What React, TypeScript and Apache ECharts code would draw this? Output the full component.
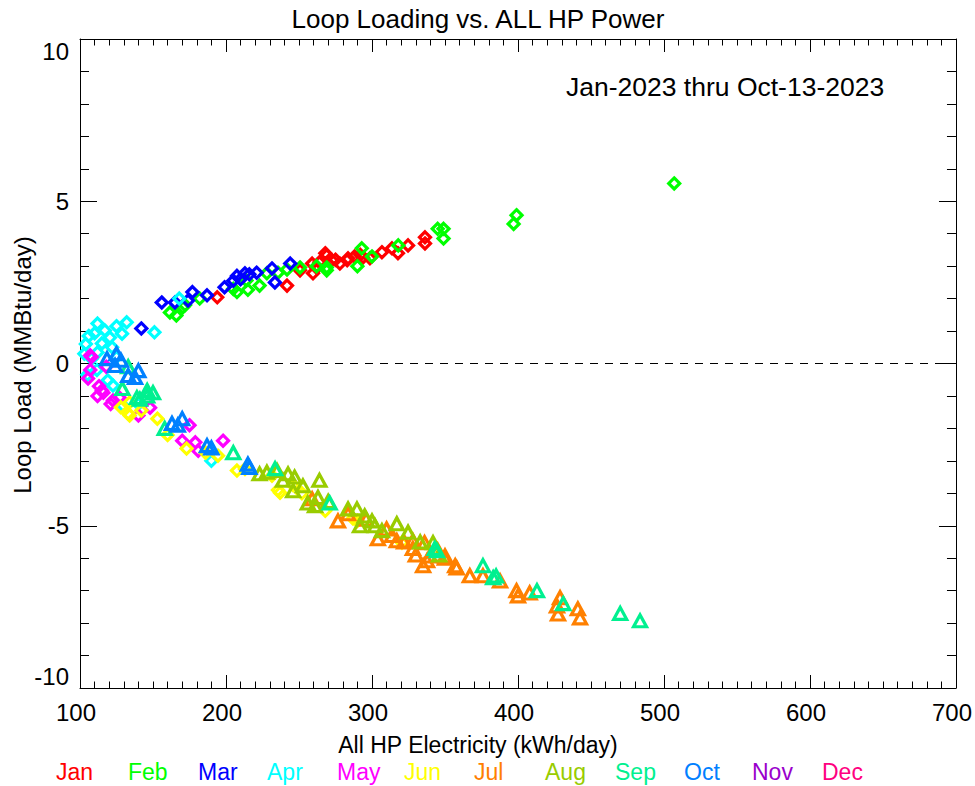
import React, { useEffect, useRef } from "react";
import * as echarts from "echarts";

const months = ["Jan", "Feb", "Mar", "Apr", "May", "Jun", "Jul", "Aug", "Sep", "Oct", "Nov", "Dec"];
const monthColors = ["#ff0000", "#00ff00", "#0000ff", "#00ffff", "#ff00ff", "#ffff00", "#ff8000", "#99cc00", "#00f090", "#0080ff", "#9900cc", "#ff0080"];
const monthSymbols = ["diamond", "diamond", "diamond", "diamond", "diamond", "diamond", "triangle", "triangle", "triangle", "triangle", "triangle", "triangle"];

const janData = [[194, 2.04], [241.8, 2.4], [250.7, 2.87], [259, 3.08], [259.6, 2.78], [264, 3.12], [268, 3.4], [272.6, 3.18], [278, 3.08], [283, 3.18], [269, 3.33], [283.6, 3.24], [293.8, 3.27], [298.6, 3.24], [306.8, 3.43], [313.7, 3.55], [317.8, 3.4], [324.7, 3.64], [336.3, 3.89], [336.3, 3.7], [288, 3.3], [292, 3.35], [275, 3.2], [262, 2.95]];
const febData = [[161.6, 1.57], [166, 1.48], [170.5, 1.73], [182, 2.0], [205, 2.3], [207.5, 2.2], [214, 2.56], [215, 2.27], [223, 2.4], [228, 2.78], [235.6, 2.8], [241.8, 2.9], [250.7, 2.96], [269, 2.96], [293, 3.55], [290, 3.0], [318, 3.64], [269, 2.87], [345, 4.15], [349, 4.15], [349, 3.85], [399, 4.57], [397, 4.3], [507, 5.55], [172, 1.8], [300, 3.3], [262, 3.0]];
const marData = [[156, 1.88], [165, 1.88], [177, 2.2], [187, 2.1], [199, 2.35], [207.5, 2.7], [213, 2.78], [221, 2.8], [231.5, 2.93], [233.5, 2.5], [244, 3.08], [174, 1.94], [142, 1.08], [210, 2.6], [216, 2.75], [205, 2.55]];
const aprData = [[112, 1.23], [117, 1.02], [132, 1.27], [128.8, 0.92], [151, 0.96], [110, 0.93], [120.5, 0.8], [112, 0.34], [115, 0.62], [122, 0.5], [111.6, -0.2], [119, -0.52], [122.6, -0.68], [129.5, -1.3], [190, -3.0], [104, 0.6], [106, 0.85], [103, 0.3], [108, 0.15], [125, 0.2], [168, 2.0], [125, 1.15], [105, -0.35], [140, -1.25]];
const mayData = [[115, -0.83], [122.6, -1.14], [127, -1.05], [148, -1.36], [140, -1.6], [175, -1.9], [170, -2.38], [179, -2.43], [181, -2.69], [198, -2.38], [107, 0.25], [105.5, -0.46], [107, -0.2], [113, -0.7], [116, -0.9], [112, -1.0], [118, -0.1], [121, -1.25], [108, 0.2]];
const junData = [[134, -1.2], [153, -1.7], [134, -1.6], [173, -2.62], [194.5, -2.84], [207.5, -3.3], [231.5, -3.46], [235.6, -3.9], [237, -3.98], [252, -4.0], [268, -4.54], [287, -4.78], [320.5, -5.52], [133, -1.54], [160, -2.2], [186, -2.75], [213, -3.25], [290, -4.85], [246, -3.75], [142, -1.45], [128, -1.35]];
const julData = [[259, -4.17], [276.7, -4.85], [283.6, -4.63], [304, -5.4], [313.7, -5.3], [317, -5.46], [328, -5.46], [336, -5.52], [328, -5.7], [337.7, -6.08], [350, -6.0], [357, -6.23], [335, -6.23], [339.7, -5.93], [350, -5.93], [367, -6.54], [376, -6.54], [387.7, -6.7], [399, -7.0], [400, -7.16], [408, -7.07], [428.8, -7.22], [426.7, -7.47], [427.4, -7.72], [441, -7.56], [442.5, -7.84], [296, -4.8], [310, -5.1], [322, -5.5], [345, -5.75], [358, -6.3], [330, -5.9]];
const augData = [[223, -3.4], [242.5, -3.4], [239, -3.6], [246, -3.92], [252.7, -3.77], [264, -3.6], [263, -4.13], [261, -4.38], [283.6, -4.48], [289.7, -4.48], [291.8, -5.0], [300, -4.85], [302, -5.0], [306.8, -5.15], [317, -4.94], [324.7, -5.2], [341.8, -5.52], [235, -3.3], [256, -4.3], [270, -4.25], [295, -4.7], [333, -5.5], [346, -5.9], [247, -3.5], [228, -3.35]];
const sepData = [[133, -0.1], [146, -0.83], [139, -1.05], [129, -0.77], [146, -1.0], [141, -1.1], [158, -2.0], [205, -2.75], [376, -6.23], [383, -6.6], [413, -7.0], [470, -7.7], [483.6, -7.93], [271, -4.3], [233.6, -3.24], [343, -5.7], [344.5, -5.77], [431, -7.4], [150, -0.9], [385, -6.55]];
const octData = [[125, 0.3], [118.5, 0.15], [124, -0.06], [133, -0.37], [140, -0.22], [137.7, -0.43], [163, -1.85], [170, -1.7], [167, -1.9], [187, -2.53], [190, -2.6], [216, -3.2], [215, -3.1], [128, 0.1]];
const novData: number[][] = [];
const decData: number[][] = [];

const monthData = [janData, febData, marData, aprData, mayData, junData, julData, augData, sepData, octData, novData, decData];

const xTicks = { min: 100, max: 700, interval: 100, minorSplit: 10 };
const yTicks = { min: -10, max: 10, interval: 5, minorSplit: 5 };

const titleText = "Loop Loading vs. ALL HP Power";
const xName = "All HP Electricity (kWh/day)";
const yName = "Loop Load (MMBtu/day)";
const rangeNote = "Jan-2023 thru Oct-13-2023";

const FONT = "'Liberation Sans', Arial, Helvetica, sans-serif";
const legendX = [56, 128, 198, 267, 337, 404, 474, 545, 615, 684, 752, 822];

export default function App() {
  const ref = useRef<HTMLDivElement>(null);
  useEffect(() => {
    if (!ref.current) return;
    const chart = echarts.init(ref.current, null, { renderer: "svg" });
    const axisLine = { show: true, onZero: false, lineStyle: { color: "#000", width: 1 } };
    const mkX = (position: string, labels: boolean) => ({
      type: "value",
      position,
      min: xTicks.min,
      max: xTicks.max,
      interval: xTicks.interval,
      axisLine,
      splitLine: { show: false },
      axisTick: { show: true, inside: true, length: 13, lineStyle: { color: "#000", width: 1 } },
      minorTick: { show: true, splitNumber: xTicks.minorSplit, length: 6.5, lineStyle: { color: "#000", width: 1 } },
      axisLabel: labels
        ? { show: true, color: "#000", fontSize: 24, fontFamily: FONT, margin: 12, padding: [0, 8, 0, 0] }
        : { show: false },
      silent: true,
    });
    const mkY = (position: string, labels: boolean) => ({
      type: "value",
      position,
      min: yTicks.min,
      max: yTicks.max,
      interval: yTicks.interval,
      axisLine,
      splitLine: { show: false },
      axisTick: { show: true, inside: true, length: 17, lineStyle: { color: "#000", width: 1 } },
      minorTick: { show: true, splitNumber: yTicks.minorSplit, length: 9, lineStyle: { color: "#000", width: 1 } },
      axisLabel: labels
        ? {
            show: true,
            color: "#000",
            fontSize: 24,
            fontFamily: FONT,
            margin: 11,
            verticalAlignMaxLabel: "top",
            verticalAlignMinLabel: "bottom",
          }
        : { show: false },
      silent: true,
    });
    const series: any[] = monthData.map((d, i) => ({
      name: months[i],
      type: "scatter",
      xAxisIndex: 0,
      yAxisIndex: 0,
      data: d,
      symbol: monthSymbols[i],
      symbolSize: monthSymbols[i] === "diamond" ? [11, 11] : [13, 12],
      itemStyle: { color: "rgba(255,255,255,0)", borderColor: monthColors[i], borderWidth: 3.2, opacity: 1 },
      emphasis: { disabled: true },
      z: 2 + i,
    }));
    series.push({
      type: "line",
      xAxisIndex: 0,
      yAxisIndex: 0,
      data: [],
      markLine: {
        silent: true,
        symbol: "none",
        label: { show: false },
        lineStyle: { color: "#000", type: [8, 7], width: 1 },
        data: [{ yAxis: 0 }],
      },
    });
    chart.setOption({
      animation: false,
      backgroundColor: "#fff",
      grid: { left: 80, right: 18, top: 39, bottom: 98, containLabel: false },
      xAxis: [mkX("bottom", true), mkX("top", false)],
      yAxis: [mkY("left", true), mkY("right", false)],
      series,
      graphic: [
        {
          type: "text",
          x: 478,
          y: 19,
          style: { text: titleText, fill: "#000", font: `26px ${FONT}`, align: "center", verticalAlign: "middle" },
        },
        {
          type: "text",
          x: 566,
          y: 87,
          style: { text: rangeNote, fill: "#000", font: `26.5px ${FONT}`, align: "left", verticalAlign: "middle" },
        },
        {
          type: "text",
          x: 478,
          y: 745,
          style: { text: xName, fill: "#000", font: `23px ${FONT}`, align: "center", verticalAlign: "middle" },
        },
        {
          type: "text",
          x: 22,
          y: 365,
          rotation: Math.PI / 2,
          style: { text: yName, fill: "#000", font: `24px ${FONT}`, align: "center", verticalAlign: "middle" },
        },
        ...months.map((m, i) => ({
          type: "text",
          x: legendX[i],
          y: 772,
          style: { text: m, fill: monthColors[i], font: `23px ${FONT}`, align: "left", verticalAlign: "middle" },
        })),
      ],
    });
    return () => chart.dispose();
  }, []);
  return <div ref={ref} style={{ width: 975, height: 786, position: "absolute", left: 0, top: 0 }} />;
}
